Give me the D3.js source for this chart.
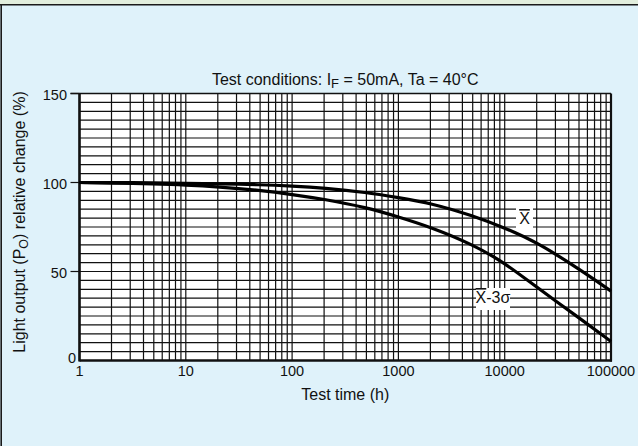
<!DOCTYPE html>
<html>
<head>
<meta charset="utf-8">
<script src="https://cdn.jsdelivr.net/npm/d3@7"></script>
<style>
  html, body { margin: 0; padding: 0; background: #dff2fa; }
  svg { display: block; }
  text { font-family: "Liberation Sans", Arial, sans-serif; fill: #111; }
</style>
</head>
<body>
<svg id="chart" width="638" height="446"></svg>
<script>
// Test time (h) at which each curve is sampled
const hours = [1, 2, 5, 10, 20, 50, 100, 200, 500, 1000, 2000, 5000, 10000, 20000, 50000, 100000];
// Mean light output relative change (%)
const meanValues = [100, 100, 99.8, 99.6, 99.3, 98.8, 98, 96.9, 94.5, 91.5, 88.5, 81.4, 74.5, 66.5, 51.5, 39];
// Mean minus three sigma (%)
const lowValues = [100, 99.7, 99.2, 98.6, 97.6, 95.6, 93.3, 90.6, 86, 80.7, 75, 65.2, 54.9, 41.1, 24, 10.7];
const xTicks = [1, 10, 100, 1000, 10000, 100000];
const yTicks = [0, 50, 100, 150];

const svg = d3.select("#chart");
const W = 638, H = 446;
const plotL = 79.5, plotR = 611, plotT = 93.5, plotB = 360.5;

// page frame: greenish strip and dark rules
svg.append("rect").attr("x", 0).attr("y", 0).attr("width", W).attr("height", 4).attr("fill", "#e2eedd");
svg.append("line").attr("x1", 0).attr("x2", W).attr("y1", 4.8).attr("y2", 4.8).attr("stroke", "#1a1a1a").attr("stroke-width", 1.6);
svg.append("line").attr("x1", 1.2).attr("x2", 1.2).attr("y1", 4).attr("y2", H).attr("stroke", "#1a1a1a").attr("stroke-width", 1.6);

const x = d3.scaleLog().domain([1, 100000]).range([plotL, plotR]);
const y = d3.scaleLinear().domain([0, 150]).range([plotB, plotT]);

// plot background
svg.append("rect").attr("x", plotL).attr("y", plotT).attr("width", plotR - plotL).attr("height", plotB - plotT).attr("fill", "#fff");

const grid = svg.append("g").attr("stroke", "#111").attr("stroke-width", 1.2);
// vertical log grid: 1..9 in each decade
const vLines = [];
for (let d = 1; d < 100000; d *= 10) for (let k = 1; k < 10; k++) vLines.push(d * k);
grid.selectAll("line.v").data(vLines).join("line").attr("class", "v")
  .attr("x1", d => x(d)).attr("x2", d => x(d)).attr("y1", plotT).attr("y2", plotB);
// horizontal grid every 5 %
grid.selectAll("line.h").data(d3.range(5, 150, 5)).join("line").attr("class", "h")
  .attr("x1", plotL).attr("x2", plotR).attr("y1", d => y(d)).attr("y2", d => y(d));

// frame
svg.append("line").attr("x1", plotL - 9).attr("x2", plotR).attr("y1", plotT).attr("y2", plotT).attr("stroke", "#111").attr("stroke-width", 1.6);
svg.append("line").attr("x1", plotL).attr("x2", plotL).attr("y1", plotT).attr("y2", plotB + 1).attr("stroke", "#111").attr("stroke-width", 2.6);
svg.append("line").attr("x1", plotR).attr("x2", plotR).attr("y1", plotT).attr("y2", plotB + 1).attr("stroke", "#111").attr("stroke-width", 2.2);
svg.append("line").attr("x1", plotL).attr("x2", plotR + 1).attr("y1", plotB).attr("y2", plotB).attr("stroke", "#111").attr("stroke-width", 2.6);

// y ticks and labels
const yAxis = svg.append("g");
yAxis.selectAll("line").data(yTicks.filter(d => d > 0)).join("line")
  .attr("x1", plotL - 9).attr("x2", plotL).attr("y1", d => y(d)).attr("y2", d => y(d))
  .attr("stroke", "#111").attr("stroke-width", 1.2);
yAxis.selectAll("text").data(yTicks).join("text")
  .attr("x", d => d === 0 ? plotL - 3.5 : plotL - 12.5)
  .attr("y", d => d === 0 ? plotB + 2.5 : y(d) + 6)
  .attr("text-anchor", "end").attr("font-size", 14.5).text(d => d);

// x tick labels
svg.append("g").selectAll("text").data(xTicks).join("text")
  .attr("x", d => x(d)).attr("y", plotB + 15.5)
  .attr("text-anchor", "middle").attr("font-size", 14.5).text(d => d);

// axis titles
svg.append("text").attr("x", (plotL + plotR) / 2).attr("y", 400)
  .attr("text-anchor", "middle").attr("font-size", 16).text("Test time (h)");
const yt = svg.append("text").attr("transform", "translate(25,222) rotate(-90)")
  .attr("text-anchor", "middle").attr("font-size", 16);
yt.append("tspan").text("Light output (P");
yt.append("tspan").attr("font-size", 12.5).attr("dy", 3).text("O");
yt.append("tspan").attr("dy", -3).text(") relative change (%)");

// title
const tt = svg.append("text").attr("x", (plotL + plotR) / 2).attr("y", 85)
  .attr("text-anchor", "middle").attr("font-size", 16);
tt.append("tspan").text("Test conditions: I");
tt.append("tspan").attr("font-size", 13).attr("dy", 3).text("F");
tt.append("tspan").attr("dy", -3).text(" = 50mA, Ta = 40°C");

// curves (B-spline smoothing through the sampled values)
const line = d3.line().x(d => x(d[0])).y(d => y(d[1])).curve(d3.curveBasis);
[meanValues, lowValues].forEach(vals => {
  svg.append("path").datum(hours.map((h, i) => [h, vals[i]]))
    .attr("d", line).attr("fill", "none").attr("stroke", "#000").attr("stroke-width", 3.2);
});

// curve labels on white boxes
function curveLabel(x0, y0, w, h, baseY, suffix) {
  svg.append("rect").attr("x", x0).attr("y", y0).attr("width", w).attr("height", h).attr("fill", "#fff");
  const t = svg.append("text").attr("x", x0 + w / 2).attr("y", baseY).attr("text-anchor", "middle").attr("font-size", 16);
  t.append("tspan").attr("text-decoration", "overline").text("X");
  if (suffix) t.append("tspan").text(suffix);
}
curveLabel(516, 208, 17, 20, 224, "");
curveLabel(476, 288, 34, 22, 303, "-3σ");
</script>
</body>
</html>
